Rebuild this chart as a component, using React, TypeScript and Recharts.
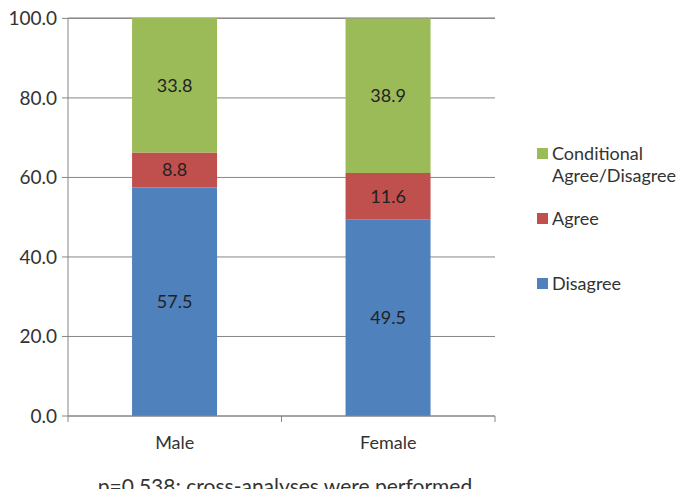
import { BarChart, Bar, XAxis, YAxis, CartesianGrid, LabelList } from "recharts";

const categories = ["Male", "Female"];
const disagree = [57.5, 49.5];
const agree = [8.8, 11.6];
const conditional = [33.8, 38.9];
const yTicks = [0, 20, 40, 60, 80, 100];
const footnote = "p=0.538; cross-analyses were performed";

const FONT = "Lato, 'Open Sans', sans-serif";

const data = categories.map((name, i) => ({
  name,
  disagree: disagree[i],
  agree: agree[i],
  conditional: conditional[i],
}));

const legendItems = [
  { label: ["Conditional", "Agree/Disagree"], color: "#9BBB59", top: 142 },
  { label: ["Agree"], color: "#C0504D", top: 207 },
  { label: ["Disagree"], color: "#4F81BD", top: 272 },
];

function XTick(props: any) {
  const { x, y, payload } = props;
  const half = payload.offset ?? 0;
  return (
    <g>
      <line x1={x - half} x2={x - half} y1={y - 8} y2={y - 2} stroke="#868686" />
      <line x1={x + half} x2={x + half} y1={y - 8} y2={y - 2} stroke="#868686" />
      <text x={x} y={y + 25} textAnchor="middle" fill="#333" fontSize={18} fontFamily={FONT}>
        {payload.value}
      </text>
    </g>
  );
}

function Legend() {
  return (
    <div style={{ position: "absolute", left: 537, top: 0, fontFamily: FONT, fontSize: 18, color: "#333" }}>
      {legendItems.map((it) => (
        <div key={it.color} style={{ position: "absolute", left: 0, top: it.top, lineHeight: "22px", whiteSpace: "nowrap" }}>
          <span style={{ position: "absolute", left: 0, top: 6, width: 11, height: 11, background: it.color }} />
          <div style={{ marginLeft: 15 }}>
            {it.label.map((l) => (
              <div key={l}>{l}</div>
            ))}
          </div>
        </div>
      ))}
    </div>
  );
}

const fmt = (v: any) => Number(v).toFixed(1);

export default function App() {
  return (
    <div style={{ position: "absolute", left: 0, top: 0, width: 679, height: 489, background: "#fff", overflow: "hidden" }}>
      <BarChart
        width={679}
        height={489}
        data={data}
        margin={{ top: 18, right: 184, left: 0, bottom: 43 }}
        barCategoryGap="30%"
      >
        <CartesianGrid vertical={false} stroke="#868686" />
        <XAxis
          dataKey="name"
          axisLine={{ stroke: "#868686" }}
          tickLine={false}
          tick={<XTick />}
          height={30}
          interval={0}
        />
        <YAxis
          width={68}
          domain={[0, 100]}
          ticks={yTicks}
          tickFormatter={fmt}
          axisLine={{ stroke: "#868686" }}
          tickLine={{ stroke: "#868686" }}
          tickSize={6}
          tickMargin={5}
          tick={{ fill: "#333", fontSize: 19, fontFamily: FONT }}
        />
        <Bar dataKey="disagree" stackId="a" fill="#4F81BD" isAnimationActive={false}>
          <LabelList dataKey="disagree" position="center" fill="#222" fontSize={18} fontFamily={FONT} formatter={fmt} />
        </Bar>
        <Bar dataKey="agree" stackId="a" fill="#C0504D" isAnimationActive={false}>
          <LabelList dataKey="agree" position="center" fill="#222" fontSize={18} fontFamily={FONT} formatter={fmt} />
        </Bar>
        <Bar dataKey="conditional" stackId="a" fill="#9BBB59" isAnimationActive={false}>
          <LabelList dataKey="conditional" position="center" fill="#222" fontSize={18} fontFamily={FONT} formatter={fmt} />
        </Bar>
      </BarChart>
      <Legend />
      <div
        style={{
          position: "absolute",
          left: 0,
          width: 570,
          top: 473,
          textAlign: "center",
          fontFamily: FONT,
          fontSize: 21,
          color: "#333",
          whiteSpace: "nowrap",
        }}
      >
        {footnote}
      </div>
    </div>
  );
}
